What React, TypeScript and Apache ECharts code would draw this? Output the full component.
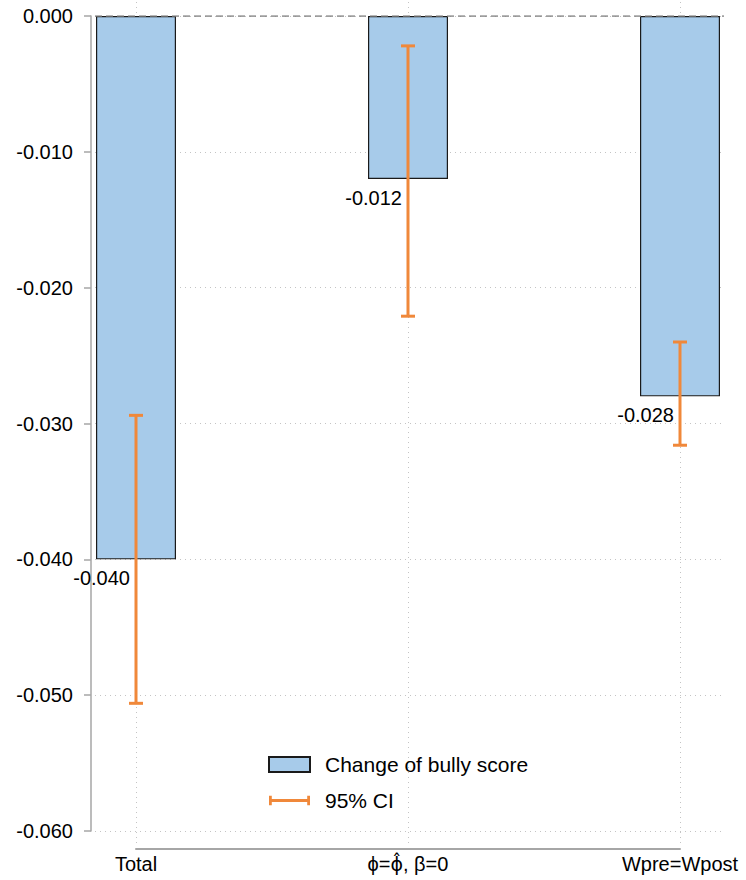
import { useEffect, useRef } from 'react';
import * as echarts from 'echarts';

// Decomposition of the change in bully score, with 95% confidence intervals
const categories = ['Total', 'ϕ=ϕ̂, β=0', 'Wpre=Wpost'];
const changeValues = [-0.04, -0.012, -0.028];
const ciLower = [-0.0506, -0.0221, -0.0316];
const ciUpper = [-0.0294, -0.0022, -0.024];

const Y_MIN = -0.06;
const Y_MAX = 0;
const Y_STEP = 0.01;

const FONT = '"Liberation Sans", Arial, Helvetica, sans-serif';
const MARK_FONT = '"DejaVu Sans", "Liberation Sans", sans-serif';
const BAR_FILL = '#a7cbea';
const BAR_EDGE = '#1a1a1a';
const CI_COLOR = '#f0883a';
const AXIS_GRAY = '#a6a6a6';
const GRID_GRAY = '#c4c4c4';

// the hatted phi is set in a face with proper combining-mark placement
function categoryLabel(name: string): string {
  const hat = 'ϕ̂';
  const at = name.indexOf(hat);
  if (at < 0) return name;
  return `{t|${name.slice(0, at)}}{m|${hat}}{t|${name.slice(at + hat.length)}}`;
}

export default function App() {
  const ref = useRef<HTMLDivElement>(null);

  useEffect(() => {
    if (!ref.current) return;
    const chart = echarts.init(ref.current, undefined, { renderer: 'svg' });

    const option: echarts.EChartsOption = {
      animation: false,
      backgroundColor: '#ffffff',
      textStyle: { fontFamily: FONT },
      grid: [
        // value axis + horizontal guides
        { left: 95, right: 22, top: 16, bottom: 49 },
        // bars, intervals and value labels
        { left: 136, right: 66, top: 16, bottom: 49 },
        // category axis + vertical guides
        { left: 136, right: 66, top: 2, bottom: 37 },
      ],
      xAxis: [
        { gridIndex: 0, type: 'value', min: 0, max: 1, show: false },
        { gridIndex: 1, type: 'category', data: categories, boundaryGap: false, show: false },
        {
          gridIndex: 2,
          type: 'category',
          data: categories,
          boundaryGap: false,
          offset: 6,
          axisLine: { show: true, onZero: false, lineStyle: { color: AXIS_GRAY, width: 2 } },
          axisTick: { show: false },
          axisLabel: {
            interval: 0,
            color: '#000',
            fontSize: 20,
            fontFamily: FONT,
            margin: 5,
            formatter: (v: string) => categoryLabel(v),
            rich: {
              t: { fontSize: 20, fontFamily: FONT, color: '#000' },
              m: { fontSize: 19, fontFamily: MARK_FONT, color: '#000' },
            },
          },
          splitLine: { show: true, lineStyle: { color: GRID_GRAY, type: [1, 4], width: 1 } },
        },
      ],
      yAxis: [
        {
          gridIndex: 0,
          type: 'value',
          min: Y_MIN,
          max: Y_MAX,
          interval: Y_STEP,
          offset: 4,
          axisLine: { show: true, onZero: false, lineStyle: { color: AXIS_GRAY, width: 1.5 } },
          axisTick: { show: true, length: 7, lineStyle: { color: AXIS_GRAY, width: 1.5 } },
          axisLabel: {
            color: '#000',
            fontSize: 20,
            fontFamily: FONT,
            margin: 18,
            formatter: (v: number) => (Math.abs(v) < 1e-9 ? 0 : v).toFixed(3),
          },
          splitLine: { show: true, lineStyle: { color: GRID_GRAY, type: [1, 4], width: 1 } },
        },
        { gridIndex: 1, type: 'value', min: Y_MIN, max: Y_MAX, show: false },
        { gridIndex: 2, type: 'value', min: 0, max: 1, show: false },
      ],
      legend: {
        orient: 'vertical',
        left: 268,
        top: 754,
        padding: 0,
        itemWidth: 41,
        itemHeight: 15,
        itemGap: 15,
        selectedMode: false,
        textStyle: { fontSize: 21, color: '#000', fontFamily: FONT, padding: [0, 0, 0, 10] },
        data: [
          { name: 'Change of bully score', icon: 'rect' },
          { name: '95% CI', icon: 'path://M0,0H3V3.5H41V0H44V10H41V6.5H3V10H0Z' },
        ],
      },
      series: [
        {
          // reference line at zero
          type: 'line',
          xAxisIndex: 0,
          yAxisIndex: 0,
          silent: true,
          symbol: 'none',
          data: [
            [0, 0],
            [1, 0],
          ],
          lineStyle: { color: '#808080', width: 1.5, type: [7, 4] },
          z: 5,
        },
        {
          name: 'Change of bully score',
          type: 'bar',
          xAxisIndex: 1,
          yAxisIndex: 1,
          barWidth: 80,
          clip: false,
          data: changeValues,
          itemStyle: { color: BAR_FILL, borderColor: BAR_EDGE, borderWidth: 1.2 },
          z: 2,
        },
        {
          name: '95% CI',
          type: 'custom',
          xAxisIndex: 1,
          yAxisIndex: 1,
          itemStyle: { color: CI_COLOR },
          encode: { x: 0, y: [1, 2] },
          data: categories.map((_, i) => [i, ciLower[i], ciUpper[i]]),
          renderItem: (_params: any, api: any) => {
            const i = api.value(0);
            const lo = api.coord([i, api.value(1)]);
            const hi = api.coord([i, api.value(2)]);
            const cap = 7;
            const style = { stroke: CI_COLOR, lineWidth: 3, fill: 'none' };
            return {
              type: 'group',
              children: [
                { type: 'line', shape: { x1: lo[0], y1: lo[1], x2: hi[0], y2: hi[1] }, style },
                { type: 'line', shape: { x1: lo[0] - cap, y1: lo[1], x2: lo[0] + cap, y2: lo[1] }, style },
                { type: 'line', shape: { x1: hi[0] - cap, y1: hi[1], x2: hi[0] + cap, y2: hi[1] }, style },
              ],
            };
          },
          z: 4,
        },
        {
          // value labels beneath each bar end
          type: 'custom',
          xAxisIndex: 1,
          yAxisIndex: 1,
          silent: true,
          data: changeValues.map((v, i) => [i, v]),
          renderItem: (_params: any, api: any) => {
            const v = api.value(1) as number;
            const p = api.coord([api.value(0), v]);
            return {
              type: 'text',
              x: p[0] - 6,
              y: p[1] + 19,
              style: {
                text: v.toFixed(3),
                fill: '#000',
                fontSize: 20,
                fontFamily: FONT,
                align: 'right',
                verticalAlign: 'middle',
              },
            };
          },
          z: 6,
        },
      ],
    };

    chart.setOption(option);
    return () => chart.dispose();
  }, []);

  return (
    <div
      ref={ref}
      style={{ position: 'absolute', left: 0, top: 0, width: 746, height: 880 }}
    />
  );
}
